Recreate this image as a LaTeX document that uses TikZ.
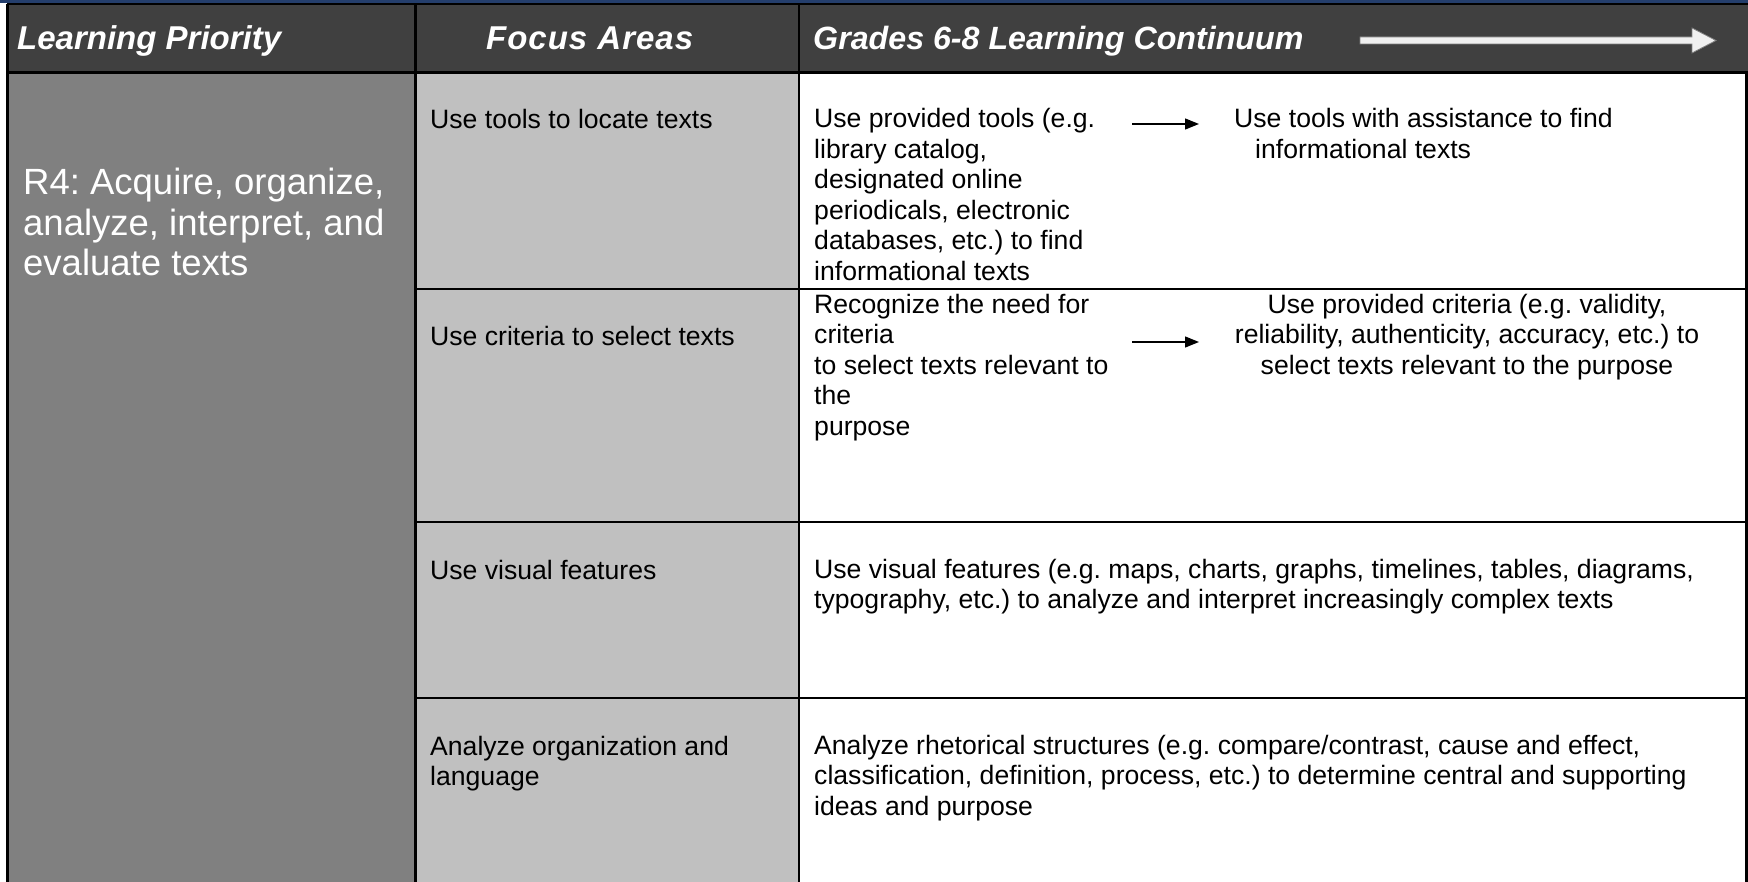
\documentclass[tikz,border=0pt]{standalone}
\usepackage{fontspec}
\setmainfont{Liberation Sans}
\usetikzlibrary{arrows.meta}
\definecolor{hdrgray}{RGB}{64,64,64}
\definecolor{lpgray}{RGB}{128,128,128}
\definecolor{fagray}{RGB}{192,192,192}
\definecolor{topblue}{RGB}{36,62,108}
\definecolor{hdrarrow}{RGB}{240,240,240}
\frenchspacing
\begin{document}
\begin{tikzpicture}[x=1pt,y=-1pt,
  txt/.style={font=\fontsize{26.6}{30.5}\selectfont, inner sep=0pt, align=left, anchor=base west, text=black},
  hdr/.style={font=\fontsize{33}{38}\selectfont\bfseries\itshape, inner sep=0pt, anchor=base west, text=white},
  lptext/.style={font=\fontsize{36.5}{40.5}\selectfont, inner sep=0pt, align=left, anchor=base west, text=white},
  gridline/.style={line width=2.6pt, draw=black},
  arr/.style={line width=1.3pt, draw=black, -{Triangle[length=14pt,width=11pt]}},
  bigarrow/.style={fill=hdrarrow, draw=gray, line width=0.8pt}
]
\useasboundingbox (0,0) rectangle (1748,882);
% fills
\fill[topblue] (0,0) rectangle (1748,3.5);
\fill[hdrgray] (7,3.5) rectangle (1748,73);
\fill[lpgray] (7,73) rectangle (415,882);
\fill[fagray] (415,73) rectangle (799,882);
% grid
\draw[line width=1.2pt] (7,4) -- (1748,4);
\draw[gridline] (7.5,4) -- (7.5,882);
\draw[gridline] (415.5,4) -- (415.5,882);
\draw[gridline] (799,4) -- (799,882);
\draw[gridline] (1746.5,72) -- (1746.5,882);
\draw[gridline] (7,72.5) -- (1748,72.5);
\draw[gridline] (415,289) -- (1746,289);
\draw[gridline] (415,522) -- (1746,522);
\draw[gridline] (415,698) -- (1746,698);
% header
\node[hdr] (h1) at (17,50) {Learning Priority};
\node[hdr] (h2) at (486,50) {\addfontfeature{LetterSpace=3}Focus Areas};
\node[hdr, font=\fontsize{32.2}{38}\selectfont\bfseries\itshape] (h3) at (813,50) {Grades 6-8 Learning Continuum};
\path[bigarrow] (1360,37) -- (1692,37) -- (1692,28) -- (1716,40.5) -- (1692,53) -- (1692,44) -- (1360,44) -- cycle;
% learning priority (anchor = baseline of last line)
\node[lptext] (lp) at (23,276) {R4: Acquire, organize,\\analyze, interpret, and\\evaluate texts};
% focus areas
\node[txt] (f1) at (430,129) {Use tools to locate texts};
\node[txt] (f2) at (430,346) {Use criteria to select texts};
\node[txt] (f3) at (430,579) {Use visual features};
\node[txt] (f4) at (430,785.5) {Analyze organization and\\language};
% continuum row 1
\node[txt] (c1a) at (814,280.5) {Use provided tools (e.g.\\library catalog,\\designated online\\periodicals, electronic\\databases, etc.) to find\\informational texts};
\node[txt] (c1b) at (1234,158.5) {Use tools with assistance to find\\\hspace*{21pt}informational texts};
\coordinate (a1s) at (1132,124);
\coordinate (a1e) at (1199,124);
\draw[arr] (a1s) -- (a1e);
% continuum row 2
\node[txt] (c2a) at (814,435) {Recognize the need for\\criteria\\to select texts relevant to\\the\\purpose};
\node[txt, align=center, anchor=base] (c2b) at (1467,374) {Use provided criteria (e.g. validity,\\reliability, authenticity, accuracy, etc.) to\\select texts relevant to the purpose};
\coordinate (a2s) at (1132,342);
\coordinate (a2e) at (1199,342);
\draw[arr] (a2s) -- (a2e);
% continuum row 3
\node[txt] (c3) at (814,608.5) {Use visual features (e.g. maps, charts, graphs, timelines, tables, diagrams,\\typography, etc.) to analyze and interpret increasingly complex texts};
% continuum row 4
\node[txt] (c4) at (814,815) {Analyze rhetorical structures (e.g. compare/contrast, cause and effect,\\classification, definition, process, etc.) to determine central and supporting\\ideas and purpose};
\end{tikzpicture}
\end{document}
